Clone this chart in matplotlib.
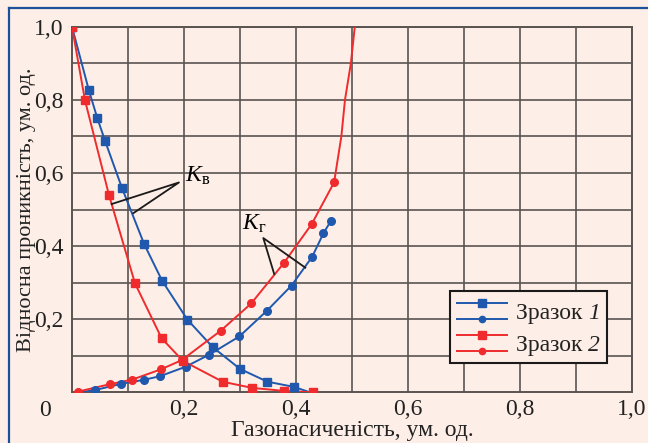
import matplotlib
matplotlib.use("Agg")
import matplotlib.pyplot as plt
from matplotlib.lines import Line2D
from matplotlib.legend_handler import HandlerBase
from matplotlib.ticker import FuncFormatter

plt.rcParams['font.family'] = ['Liberation Serif', 'DejaVu Serif']
plt.rcParams['mathtext.fontset'] = 'custom'
plt.rcParams['mathtext.rm'] = 'Liberation Serif'
plt.rcParams['mathtext.it'] = 'Liberation Serif:italic'

# Kв (water) and Kг (gas) relative permeability vs gas saturation
# sample 1 (blue)
kw1_x = [0.0, 0.030, 0.045, 0.059, 0.089, 0.129, 0.161, 0.206, 0.251, 0.300, 0.349, 0.396]
kw1_y = [1.0, 0.827, 0.751, 0.688, 0.560, 0.405, 0.305, 0.199, 0.124, 0.064, 0.029, 0.015]
kw1_end_x = [0.425]
kw1_end_y = [0.0]

kg1_start_x = [0.014]
kg1_start_y = [0.0]
kg1_x = [0.041, 0.087, 0.128, 0.157, 0.203, 0.245, 0.299, 0.348, 0.392, 0.429, 0.449, 0.462]
kg1_y = [0.006, 0.023, 0.034, 0.044, 0.070, 0.103, 0.153, 0.223, 0.292, 0.371, 0.435, 0.468]

# sample 2 (red)
kw2_x = [0.0, 0.023, 0.066, 0.1125, 0.160, 0.198, 0.269, 0.322, 0.378, 0.430]
kw2_y = [1.0, 0.800, 0.540, 0.298, 0.148, 0.086, 0.029, 0.012, 0.004, 0.0]

kg2_x = [0.011, 0.067, 0.108, 0.159, 0.196, 0.266, 0.320, 0.378, 0.428, 0.468]
kg2_y = [0.002, 0.022, 0.035, 0.063, 0.088, 0.169, 0.243, 0.353, 0.460, 0.574]
kg2_end_x = [0.481, 0.4875, 0.498, 0.505]
kg2_end_y = [0.70, 0.80, 0.90, 1.0]

ticks = [0.2, 0.4, 0.6, 0.8, 1.0]
sample_word = 'Зразок'
sample_nums = ['1', '2']

blue = '#1f58ad'
red = '#ef2b2d'
bg = '#fdefe7'
gridc = '#5a5350'
txtc = '#222222'

fig = plt.figure(figsize=(6.48, 4.43), dpi=100, facecolor=bg)
ax = fig.add_axes([0.1111, 0.1144, 0.8642, 0.8253], facecolor=bg)

lw = 1.4
ax.plot(kw1_x + kw1_end_x, kw1_y + kw1_end_y, color=blue, lw=lw, zorder=3)
ax.plot(kw1_x, kw1_y, 's', color=blue, ms=6, zorder=4)
ax.plot(kg1_start_x + kg1_x, kg1_start_y + kg1_y, color=blue, lw=lw, zorder=3)
ax.plot(kg1_x, kg1_y, 'o', color=blue, ms=5.5, zorder=4)
ax.plot(kw2_x, kw2_y, color=red, lw=lw, zorder=3)
ax.plot(kw2_x, kw2_y, 's', color=red, ms=6, zorder=4)
ax.plot(kg2_x + kg2_end_x, kg2_y + kg2_end_y, color=red, lw=lw, zorder=3)
ax.plot(kg2_x, kg2_y, 'o', color=red, ms=5.5, zorder=4)

ax.set_xlim(0, 1)
ax.set_ylim(0, 1)
ax.set_xticks(ticks)
ax.set_yticks(ticks)
ax.set_xticks([0.1, 0.3, 0.5, 0.7, 0.9], minor=True)
ax.set_yticks([0.1, 0.3, 0.5, 0.7, 0.9], minor=True)
fmt = FuncFormatter(lambda v, p: f"{v:.1f}".replace('.', ','))
ax.xaxis.set_major_formatter(fmt)
ax.yaxis.set_major_formatter(fmt)
ax.tick_params(which='both', length=0, labelsize=17, colors=txtc)
ax.tick_params(axis='x', pad=5)
ax.tick_params(axis='y', pad=6)
ax.grid(which='both', color=gridc, lw=1.2)
for s in ax.spines.values():
    s.set_color(gridc)
    s.set_linewidth(1.4)
ax.text(-0.048, -0.02, '0', transform=ax.transAxes, fontsize=17, color=txtc,
        ha='center', va='top')

ax.set_xlabel('Газонасиченість, ум. од.', fontsize=17, color=txtc, labelpad=0)
ax.set_ylabel('Відносна проникність, ум. од.', fontsize=16, color=txtc, labelpad=-1.5)

# annotation leaders
ax.plot([0.0709, 0.191, 0.1095], [0.515, 0.574, 0.490], color='#1a1a1a', lw=1.3, zorder=5)
ax.text(0.202, 0.592, r'$K_{\mathrm{в}}$', fontsize=17, va='center', ha='left')
ax.plot([0.361, 0.3416, 0.4166], [0.324, 0.422, 0.341], color='#1a1a1a', lw=1.3, zorder=5)
ax.text(0.303, 0.462, r'$K_{\mathrm{г}}$', fontsize=17, va='center', ha='left')


class Stack:
    def __init__(self, color):
        self.color = color


class StackHandler(HandlerBase):
    def create_artists(self, legend, orig_handle, xdescent, ydescent,
                       width, height, fontsize, trans):
        arts = []
        for frac, mk, ms in [(0.8, 's', 5.5), (0.2, 'o', 4.5)]:
            y = -ydescent + frac * height
            ln = Line2D([-xdescent, -xdescent + width], [y, y], color=orig_handle.color, lw=1.4)
            mkr = Line2D([-xdescent + width / 2], [y], marker=mk, ms=ms,
                         color=orig_handle.color, ls='none')
            ln.set_transform(trans)
            mkr.set_transform(trans)
            arts += [ln, mkr]
        return arts


labels = [f'{sample_word} {n}' for n in sample_nums]
leg = ax.legend([Stack(blue), Stack(red)], labels,
                handler_map={Stack: StackHandler()}, loc='upper left',
                bbox_to_anchor=(0.675, 0.278), borderaxespad=0, fontsize=17,
                handlelength=2.1, handleheight=1.35, labelspacing=0.22,
                handletextpad=0.4, borderpad=0.3, fancybox=False, framealpha=1)
leg.get_frame().set_facecolor(bg)
leg.get_frame().set_edgecolor('#1a1a1a')
leg.get_frame().set_linewidth(1.5)
leg.set_zorder(6)
for t in leg.get_texts():
    t.set_alpha(0)  # sized placeholder; drawn again below with italic numbers

# legend words upright, sample numbers italic
fig.canvas.draw()
W, H = fig.bbox.width, fig.bbox.height
for t, num in zip(leg.get_texts(), sample_nums):
    bb = t.get_window_extent()
    word = fig.text(bb.x0 / W, bb.y0 / H, sample_word + ' ', fontsize=17, color=txtc,
                    va='bottom', ha='left', zorder=7)
    wb = word.get_window_extent(fig.canvas.get_renderer())
    fig.text(wb.x1 / W, bb.y0 / H, num, fontsize=17, fontstyle='italic', color=txtc,
             va='bottom', ha='left', zorder=7)

# blue frame of the figure
fig.add_artist(Line2D([8.5 / 648, 8.5 / 648], [0, 1 - 8.3 / 443], color='#1c4f9c', lw=1.6,
                      transform=fig.transFigure))
fig.add_artist(Line2D([8.5 / 648, 1], [1 - 8.3 / 443, 1 - 8.3 / 443], color='#1c4f9c', lw=1.6,
                      transform=fig.transFigure))

fig.savefig('out.png', dpi=100, facecolor=bg)
